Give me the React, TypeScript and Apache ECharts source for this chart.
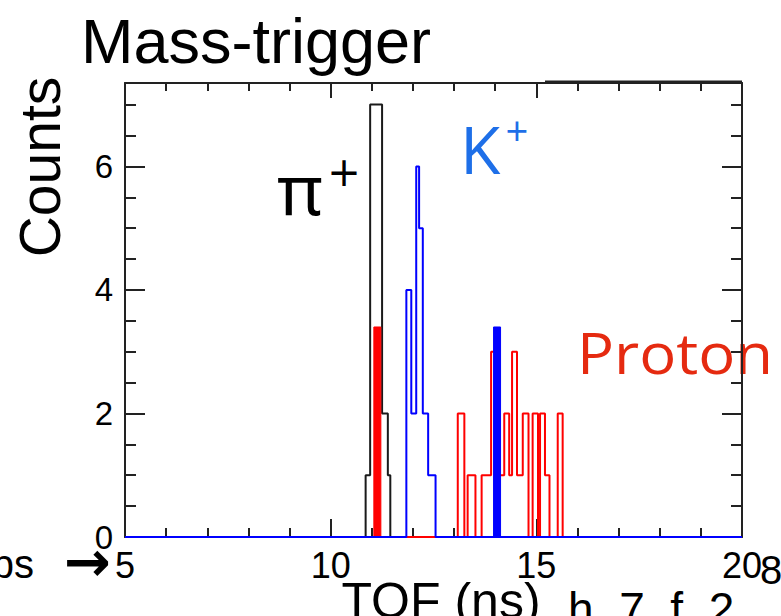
import React, { useEffect, useRef } from "react";
import * as echarts from "echarts";

// Axis ranges and tick labels
const X_MIN = 5;
const X_MAX = 20;
const Y_MIN = 0;
const Y_MAX = 7.35;
const xTickLabels = ["5", "10", "15", "20"];
const yTickLabels = ["0", "2", "4", "6"];

// pi+ histogram (black outline): bin edges (ns) and counts
const piEdges = [10.85, 10.96, 11.25, 11.39, 11.45];
const piCounts = [1, 7, 2, 1];

// K+ histogram (blue outline)
const kaonEdges = [11.84, 11.96, 12.08, 12.15, 12.24, 12.37, 12.55];
const kaonCounts = [4, 2, 6, 5, 2, 1];

// Proton histogram (red outline)
const protonEdges = [
  13.09, 13.25, 13.33, 13.52, 13.67, 13.9, 14.03, 14.22, 14.34, 14.41,
  14.53, 14.67, 14.81, 14.91, 15.04, 15.09, 15.21, 15.32, 15.52, 15.64,
];
const protonCounts = [2, 0, 1, 0, 1, 3, 1, 2, 1, 3, 1, 2, 0, 2, 0, 2, 1, 0, 2];

// Mass-trigger filled bins
const piTrigEdges = [11.05, 11.22];
const piTrigCounts = [3.4];
const protonTrigEdges = [13.96, 14.13];
const protonTrigCounts = [3.4];

function stepPoints(edges: number[], counts: number[], full: boolean) {
  const pts: number[][] = [];
  if (full) pts.push([X_MIN, 0]);
  pts.push([edges[0], 0]);
  for (let i = 0; i < counts.length; i++) {
    pts.push([edges[i], counts[i]]);
    pts.push([edges[i + 1], counts[i]]);
  }
  pts.push([edges[edges.length - 1], 0]);
  if (full) pts.push([X_MAX, 0]);
  return pts;
}

const FONT = '"Liberation Sans", Arial, Helvetica, sans-serif';
const AX = "#222";

function outline(name: string, data: number[][], color: string, z: number) {
  return {
    name,
    type: "line",
    data,
    showSymbol: false,
    symbol: "none",
    clip: false,
    lineStyle: { color, width: 2 },
    z,
  };
}

function filled(name: string, data: number[][], color: string, z: number) {
  return {
    name,
    type: "line",
    data,
    showSymbol: false,
    symbol: "none",
    clip: false,
    lineStyle: { color, width: 1 },
    areaStyle: { color, opacity: 1, origin: "start" },
    z,
  };
}

function txt(
  text: string,
  x: number,
  y: number,
  font: string,
  fill: string,
  align: string,
  extra: any = {}
) {
  return {
    type: "text",
    z: -1,
    x,
    y,
    ...extra,
    style: {
      text,
      x: 0,
      y: 0,
      font,
      fill,
      textAlign: align,
      align,
      textVerticalAlign: "middle",
      verticalAlign: "middle",
    },
  };
}

export default function App() {
  const ref = useRef<HTMLDivElement>(null);
  useEffect(() => {
    if (!ref.current) return;
    const chart = echarts.init(ref.current, undefined, { renderer: "svg" });
    const xBase = {
      type: "value",
      min: X_MIN,
      max: X_MAX,
      interval: 5,
      splitLine: { show: false },
      minorSplitLine: { show: false },
      axisLine: { show: true, onZero: false, lineStyle: { color: AX, width: 2 } },
    };
    const yBase = {
      type: "value",
      min: Y_MIN,
      max: Y_MAX,
      splitLine: { show: false },
      minorSplitLine: { show: false },
    };
    chart.setOption({
      animation: false,
      backgroundColor: "#ffffff",
      grid: { left: 125, right: 39, top: 83, bottom: 79, containLabel: false },
      xAxis: [
        {
          ...xBase,
          position: "bottom",
          axisTick: { show: true, inside: true, length: 18, lineStyle: { color: AX, width: 2 } },
          minorTick: { show: true, splitNumber: 5, length: 9, lineStyle: { color: AX, width: 2 } },
          axisLabel: {
            show: true,
            fontSize: 36,
            color: "#000",
            fontFamily: FONT,
            margin: 10,
            formatter: (v: number) => (xTickLabels.includes(String(v)) ? String(v) : ""),
          },
        },
        {
          ...xBase,
          position: "top",
          axisTick: { show: true, inside: true, length: 15, lineStyle: { color: AX, width: 2 } },
          minorTick: { show: true, splitNumber: 5, length: 8, lineStyle: { color: AX, width: 2 } },
          axisLabel: { show: false },
        },
      ],
      yAxis: [
        {
          ...yBase,
          position: "left",
          interval: 2,
          axisLine: { show: true, onZero: false, lineStyle: { color: AX, width: 2 } },
          axisTick: { show: true, inside: true, length: 20, lineStyle: { color: AX, width: 2 } },
          axisLabel: {
            show: true,
            fontSize: 33,
            color: "#000",
            fontFamily: FONT,
            margin: 12,
            showMaxLabel: false,
            formatter: (v: number) => (yTickLabels.includes(String(v)) ? String(v) : ""),
          },
        },
        {
          ...yBase,
          position: "left",
          interval: 0.5,
          axisLine: { show: false, onZero: false },
          axisTick: { show: true, inside: true, length: 11, lineStyle: { color: AX, width: 2 } },
          axisLabel: { show: false },
        },
        {
          ...yBase,
          position: "right",
          interval: 2,
          axisLine: { show: true, onZero: false, lineStyle: { color: AX, width: 2 } },
          axisTick: { show: true, inside: true, length: 20, lineStyle: { color: AX, width: 2 } },
          axisLabel: { show: false },
        },
        {
          ...yBase,
          position: "right",
          interval: 0.5,
          axisLine: { show: false, onZero: false },
          axisTick: { show: true, inside: true, length: 11, lineStyle: { color: AX, width: 2 } },
          axisLabel: { show: false },
        },
      ],
      series: [
        outline("pi+", stepPoints(piEdges, piCounts, true), "#1a1a1a", 2),
        outline("Proton", stepPoints(protonEdges, protonCounts, true), "#ff0000", 3),
        filled("pi+ mass-trigger", stepPoints(piTrigEdges, piTrigCounts, false), "#ff0000", 4),
        outline("K+", stepPoints(kaonEdges, kaonCounts, true), "#0000ff", 5),
        filled("Proton mass-trigger", stepPoints(protonTrigEdges, protonTrigCounts, false), "#0000ff", 6),
      ],
      graphic: [
        txt("Mass-trigger", 81, 41, `63px ${FONT}`, "#000", "left"),
        txt("Counts", 40, 167, `57px ${FONT}`, "#000", "center", { rotation: Math.PI / 2 }),
        txt("π", 277, 188, '70px "Noto Sans"', "#000", "left"),
        txt("+", 344, 172, '40px "DejaVu Sans"', "#000", "center"),
        txt("K", 460, 148, '66px "Open Sans"', "#1e6fe8", "left"),
        txt("+", 517, 130, '40px "Open Sans"', "#1e6fe8", "center"),
        txt("Proton", 577, 352, '57px "Open Sans"', "#e52a10", "left", { scaleX: 1.08 }),
        txt("ps", 34, 564, `40px ${FONT}`, "#000", "right"),
        txt("→", 111, 561, `bold 56px "DejaVu Sans"`, "#000", "right"),
        txt("TOF (ns)", 441, 601, `50px ${FONT}`, "#000", "center"),
        txt("h_7_f_2", 568, 609, `46px ${FONT}`, "#000", "left"),
        txt("8", 760, 570, `40px ${FONT}`, "#000", "left"),
        {
          type: "line",
          z: 10,
          shape: { x1: 545, y1: 81.5, x2: 742, y2: 81.5 },
          style: { stroke: AX, lineWidth: 2 },
        },
      ],
    });
    return () => chart.dispose();
  }, []);
  return (
    <div
      ref={ref}
      style={{ position: "absolute", left: 0, top: 0, width: 781, height: 616, background: "#fff" }}
    />
  );
}
